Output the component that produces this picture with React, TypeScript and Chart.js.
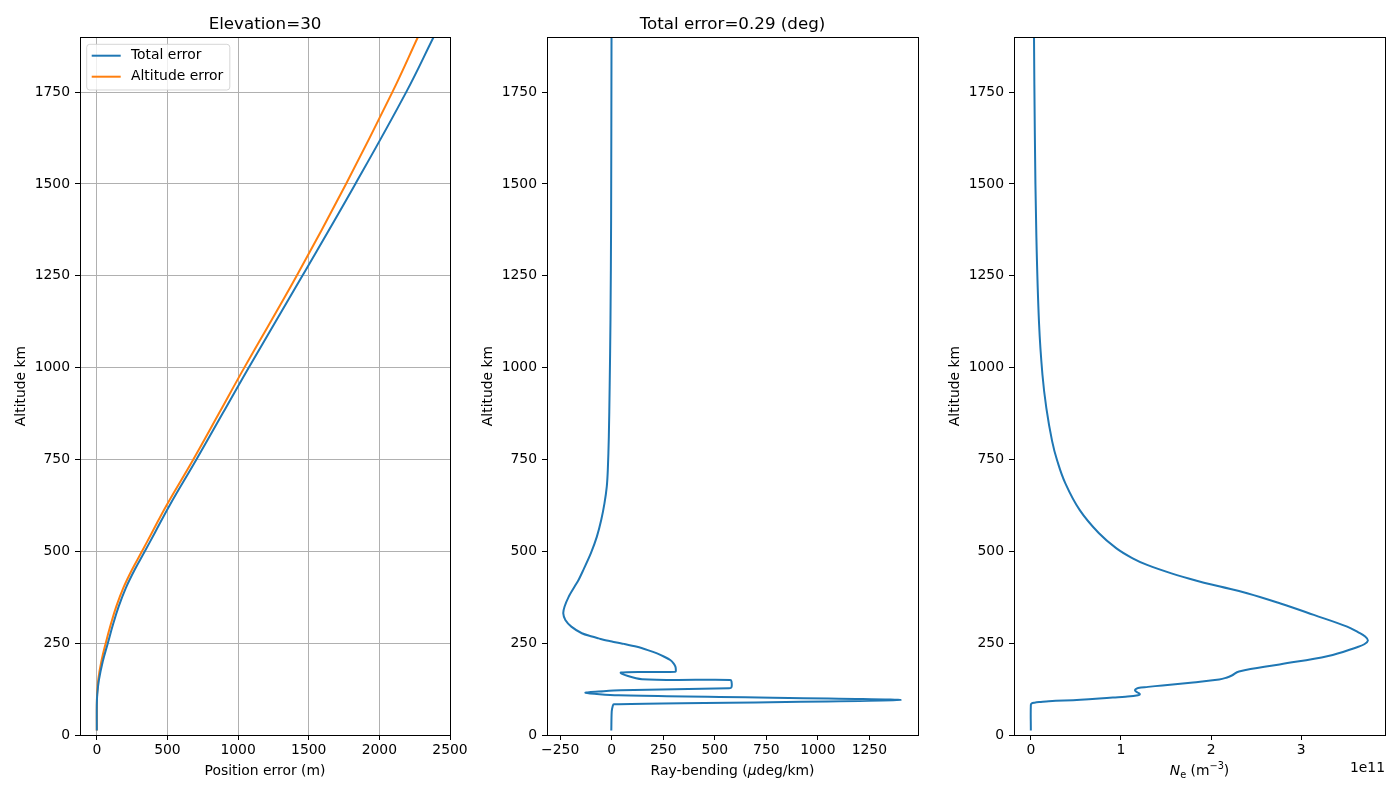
import React, { useEffect, useRef } from "react";
import { Chart, registerables } from "chart.js";

Chart.register(...registerables);

const FONT = "'DejaVu Sans', Verdana, sans-serif";
const BASE_SIZE = 13.9;
const TITLE_SIZE = 16.7;
const C_BLUE = "#1f77b4";
const C_ORANGE = "#ff7f0e";
const C_GRID = "#b0b0b0";

// ---- shared altitude axis ----
const ALT_MIN = 0;
const ALT_MAX = 1900;
const ALT_TICKS = [0, 250, 500, 750, 1000, 1250, 1500, 1750];
const ALT_LABEL = "Altitude km";

// ---- panel 1: position error ----
const P1_TITLE = "Elevation=30";
const P1_X_TICKS = [0, 500, 1000, 1500, 2000, 2500];
const P1_X_MIN = -119;
const P1_X_MAX = 2500;
const P1_SERIES = ["Total error", "Altitude error"];
const P1_ALT = [12, 80, 110, 150, 200, 250, 300, 350, 400, 450, 500, 550, 625, 750, 875, 1000, 1250, 1500, 1750, 1900];
const P1_TOTAL = [0, 0, 3, 15, 42, 78, 114, 155, 205, 268, 340, 410, 515, 705, 890, 1075, 1455, 1830, 2190, 2384];
const P1_ALTERR = [0, 0, 2, 10, 32, 63, 98, 138, 187, 249, 320, 389, 493, 683, 864, 1044, 1415, 1764, 2092, 2273];

// ---- panel 2: ray bending ----
const P2_TITLE = "Total error=0.29 (deg)";
const P2_X_TICKS = [-250, 0, 250, 500, 750, 1000, 1250];
const P2_X_MIN = -314;
const P2_X_MAX = 1486;
const P2_ALT = [1900, 1400, 1130, 948, 812, 721, 676, 631, 585, 540, 495, 449, 422, 404, 376, 349, 331, 313, 295, 277, 268, 263, 257, 254, 248, 240, 231, 222, 213, 204, 195, 186, 178, 172, 170, 152, 150, 146, 130, 127.5, 121.5, 119, 115, 108, 95, 84, 79, 64, 12];
const P2_BEND = [-1, -3, -6, -10, -14, -19, -24, -35, -51, -72, -101, -138, -161, -180, -209, -229, -235, -225, -196, -145, -96, -64, -24, 5, 60, 123, 175, 220, 255, 284, 300, 309, 311, 309, 45, 147, 575, 581, 581, 570, 42, -39, -127, 34, 1402, 10, 5, 0, -2];

// ---- panel 3: electron density (units of 1e11 m^-3) ----
const P3_X_TICKS = [0, 1, 2, 3];
const P3_EXP = 11;
const P3_X_MIN = -0.187;
const P3_X_MAX = 3.93;
const P3_ALT = [12, 82, 86, 88, 90, 92, 96, 102, 104, 108, 111, 115, 120, 124, 128, 131, 135, 143, 151, 156, 162, 173, 192, 215, 239, 247, 257, 268, 280, 295, 327, 358, 386, 404, 420, 440, 463, 481, 508, 549, 612, 685, 748, 800, 890, 980, 1120, 1360, 1640, 1900];
const P3_NE = [0, 0, 0.01, 0.04, 0.11, 0.2, 0.55, 0.91, 1.05, 1.19, 1.21, 1.19, 1.16, 1.16, 1.19, 1.3, 1.46, 1.8, 2.09, 2.17, 2.23, 2.31, 2.76, 3.3, 3.62, 3.7, 3.74, 3.71, 3.63, 3.51, 3.14, 2.77, 2.4, 2.1, 1.84, 1.56, 1.29, 1.13, 0.95, 0.756, 0.543, 0.383, 0.291, 0.236, 0.172, 0.129, 0.091, 0.061, 0.044, 0.035];

type Seg = { t: string; it?: boolean; sub?: boolean; sup?: boolean };

type Series = { label: string; xs: number[]; ys: number[]; color: string; tension: number };

type PanelSpec = {
  key: string;
  left: number;
  width: number;
  plotLeft: number;
  plotRight: number;
  xMin: number;
  xMax: number;
  xTicks: number[];
  grid: boolean;
  series: Series[];
  title?: string;
  xTitle: Seg[];
  legend?: boolean;
  offsetText?: string;
};

const PLOT_TOP = 37;
const PLOT_BOTTOM = 735;
const CANVAS_H = 800;

const fmtTick = (v: number) => {
  const r = Math.round(v * 1000) / 1000;
  return r < 0 ? "\u2212" + String(Math.abs(r)) : String(r);
};

function drawRich(ctx: CanvasRenderingContext2D, segs: Seg[], cx: number, baseY: number, size: number) {
  const fontFor = (s: Seg) => `${s.it ? "italic " : ""}${s.sub || s.sup ? size * 0.7 : size}px ${FONT}`;
  let total = 0;
  const widths = segs.map((s) => {
    ctx.font = fontFor(s);
    const w = ctx.measureText(s.t).width;
    total += w;
    return w;
  });
  let x = cx - total / 2;
  ctx.textAlign = "left";
  ctx.textBaseline = "alphabetic";
  segs.forEach((s, i) => {
    ctx.font = fontFor(s);
    const dy = s.sub ? size * 0.2 : s.sup ? -size * 0.42 : 0;
    ctx.fillText(s.t, x, baseY + dy);
    x += widths[i];
  });
}

function decorPlugin(spec: PanelSpec) {
  return {
    id: "decor_" + spec.key,
    afterDraw(chart: any) {
      const ctx: CanvasRenderingContext2D = chart.ctx;
      const a = chart.chartArea;
      ctx.save();
      // frame (all four spines)
      ctx.strokeStyle = "#000";
      ctx.lineWidth = 1;
      const l = Math.floor(a.left) + 0.5;
      const r = Math.floor(a.right) + 0.5;
      const t = Math.floor(a.top) + 0.5;
      const b = Math.floor(a.bottom) + 0.5;
      ctx.strokeRect(l, t, r - l, b - t);
      ctx.fillStyle = "#000";
      // title
      if (spec.title) {
        ctx.font = `${TITLE_SIZE}px ${FONT}`;
        ctx.textAlign = "center";
        ctx.textBaseline = "alphabetic";
        ctx.fillText(spec.title, (a.left + a.right) / 2, a.top - 8);
      }
      // x axis title
      drawRich(ctx, spec.xTitle, (a.left + a.right) / 2, a.bottom + 40, BASE_SIZE);
      // offset text
      if (spec.offsetText) {
        ctx.font = `${BASE_SIZE}px ${FONT}`;
        ctx.textAlign = "right";
        ctx.textBaseline = "middle";
        ctx.fillText(spec.offsetText, a.right, a.bottom + 33);
      }
      // legend
      if (spec.legend) {
        const ds = chart.data.datasets;
        ctx.font = `${BASE_SIZE}px ${FONT}`;
        let maxW = 0;
        ds.forEach((d: any) => {
          maxW = Math.max(maxW, ctx.measureText(d.label).width);
        });
        const bx = a.left + 6.7;
        const by = a.top + 7.3;
        const textX = bx + 44.3;
        const bw = textX + maxW + 6.5 - bx;
        const bh = 45.7;
        const rad = 3;
        ctx.beginPath();
        ctx.moveTo(bx + rad, by);
        ctx.lineTo(bx + bw - rad, by);
        ctx.quadraticCurveTo(bx + bw, by, bx + bw, by + rad);
        ctx.lineTo(bx + bw, by + bh - rad);
        ctx.quadraticCurveTo(bx + bw, by + bh, bx + bw - rad, by + bh);
        ctx.lineTo(bx + rad, by + bh);
        ctx.quadraticCurveTo(bx, by + bh, bx, by + bh - rad);
        ctx.lineTo(bx, by + rad);
        ctx.quadraticCurveTo(bx, by, bx + rad, by);
        ctx.closePath();
        ctx.fillStyle = "rgba(255,255,255,0.8)";
        ctx.fill();
        ctx.strokeStyle = "rgba(204,204,204,0.8)";
        ctx.lineWidth = 1;
        ctx.stroke();
        ds.forEach((d: any, i: number) => {
          const yy = by + 11.4 + i * 21;
          ctx.strokeStyle = d.borderColor;
          ctx.lineWidth = 2;
          ctx.beginPath();
          ctx.moveTo(bx + 5, yy);
          ctx.lineTo(bx + 34, yy);
          ctx.stroke();
          ctx.fillStyle = "#000";
          ctx.textAlign = "left";
          ctx.textBaseline = "middle";
          ctx.fillText(d.label, textX, yy);
        });
      }
      ctx.restore();
    },
  };
}

function buildConfig(spec: PanelSpec): any {
  const tickFont = { family: FONT, size: BASE_SIZE };
  const gridOpts = {
    display: true,
    drawOnChartArea: spec.grid,
    drawTicks: true,
    tickLength: 5,
    color: C_GRID,
    tickColor: "#000",
    lineWidth: 1,
    tickWidth: 1,
  };
  return {
    type: "scatter",
    data: {
      datasets: spec.series.map((s) => ({
        label: s.label,
        data: s.xs.map((x, i) => ({ x, y: s.ys[i] })),
        showLine: true,
        borderColor: s.color,
        backgroundColor: s.color,
        borderWidth: 2,
        borderJoinStyle: "round",
        borderCapStyle: "butt",
        pointRadius: 0,
        pointHoverRadius: 0,
        tension: s.tension,
        fill: false,
      })),
    },
    options: {
      responsive: false,
      animation: false,
      events: [],
      layout: {
        padding: { left: 0, top: PLOT_TOP, right: spec.width - spec.plotRight, bottom: 0 },
      },
      plugins: {
        legend: { display: false },
        title: { display: false },
        tooltip: { enabled: false },
      },
      scales: {
        x: {
          type: "linear",
          position: "bottom",
          min: spec.xMin,
          max: spec.xMax,
          afterBuildTicks: (s: any) => {
            s.ticks = spec.xTicks.map((v) => ({ value: v }));
          },
          afterFit: (s: any) => {
            s.height = CANVAS_H - PLOT_BOTTOM;
          },
          ticks: {
            autoSkip: false,
            maxRotation: 0,
            minRotation: 0,
            padding: 2,
            color: "#000",
            font: tickFont,
            callback: (v: any) => fmtTick(Number(v)),
          },
          grid: gridOpts,
          border: { display: false },
        },
        y: {
          type: "linear",
          position: "left",
          min: ALT_MIN,
          max: ALT_MAX,
          afterBuildTicks: (s: any) => {
            s.ticks = ALT_TICKS.map((v) => ({ value: v }));
          },
          afterFit: (s: any) => {
            s.width = spec.plotLeft;
          },
          ticks: {
            autoSkip: false,
            padding: 5,
            color: "#000",
            font: tickFont,
            callback: (v: any) => fmtTick(Number(v)),
          },
          grid: gridOpts,
          border: { display: false },
          title: {
            display: true,
            text: ALT_LABEL,
            color: "#000",
            font: { family: FONT, size: BASE_SIZE },
            padding: { top: spec.plotLeft - 59 - BASE_SIZE * 0.6, bottom: 0 },
          },
        },
      },
    },
    plugins: [decorPlugin(spec)],
  };
}

const PANELS: PanelSpec[] = [
  {
    key: "p1",
    left: 0,
    width: 480,
    plotLeft: 80,
    plotRight: 450,
    xMin: P1_X_MIN,
    xMax: P1_X_MAX,
    xTicks: P1_X_TICKS,
    grid: true,
    title: P1_TITLE,
    legend: true,
    xTitle: [{ t: "Position error (m)" }],
    series: [
      { label: P1_SERIES[0], xs: P1_TOTAL, ys: P1_ALT, color: C_BLUE, tension: 0.4 },
      { label: P1_SERIES[1], xs: P1_ALTERR, ys: P1_ALT, color: C_ORANGE, tension: 0.4 },
    ],
  },
  {
    key: "p2",
    left: 470,
    width: 470,
    plotLeft: 77,
    plotRight: 448,
    xMin: P2_X_MIN,
    xMax: P2_X_MAX,
    xTicks: P2_X_TICKS,
    grid: false,
    title: P2_TITLE,
    xTitle: [{ t: "Ray-bending (" }, { t: "\u03bc", it: true }, { t: "deg/km)" }],
    series: [{ label: "Ray-bending", xs: P2_BEND, ys: P2_ALT, color: C_BLUE, tension: 0.3 }],
  },
  {
    key: "p3",
    left: 940,
    width: 460,
    plotLeft: 74,
    plotRight: 445,
    xMin: P3_X_MIN,
    xMax: P3_X_MAX,
    xTicks: P3_X_TICKS,
    grid: false,
    offsetText: "1e" + P3_EXP,
    xTitle: [{ t: "N", it: true }, { t: "e", sub: true }, { t: " (m" }, { t: "\u22123", sup: true }, { t: ")" }],
    series: [{ label: "Ne", xs: P3_NE, ys: P3_ALT, color: C_BLUE, tension: 0.4 }],
  },
];

function Panel({ spec }: { spec: PanelSpec }) {
  const ref = useRef<HTMLCanvasElement>(null);
  useEffect(() => {
    if (!ref.current) return;
    const chart = new Chart(ref.current, buildConfig(spec));
    return () => chart.destroy();
  }, [spec]);
  return (
    <canvas
      ref={ref}
      width={spec.width}
      height={CANVAS_H}
      style={{ position: "absolute", left: spec.left, top: 0, width: spec.width, height: CANVAS_H }}
    />
  );
}

export default function App() {
  return (
    <div
      style={{
        position: "fixed",
        left: 0,
        top: 0,
        width: 1400,
        height: CANVAS_H,
        background: "#fff",
        overflow: "hidden",
      }}
    >
      {PANELS.map((p) => (
        <Panel key={p.key} spec={p} />
      ))}
    </div>
  );
}
